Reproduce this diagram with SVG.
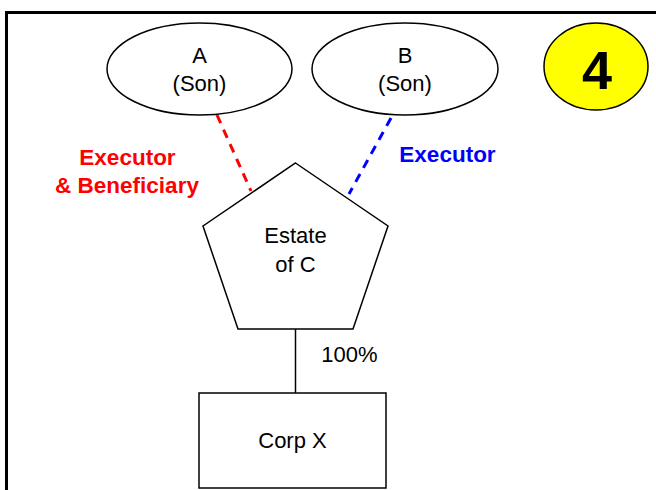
<svg xmlns="http://www.w3.org/2000/svg" width="656" height="490" viewBox="0 0 656 490">
<style>
.shape{fill:#fff;stroke:#000;stroke-width:1.5}
.t{font-family:"Liberation Sans",Arial,sans-serif;font-size:22px;text-anchor:middle;fill:#000}
.lbl{font-family:"Liberation Sans",Arial,sans-serif;font-size:22.5px;font-weight:bold;text-anchor:middle}
.conn{fill:none;stroke:#000;stroke-width:1.5}
.dash{fill:none;stroke-width:3;stroke-dasharray:9 7}
</style>
<rect width="656" height="490" fill="#fff"/>
<path d="M6.5 490 V12.5 H656" fill="none" stroke="#000" stroke-width="3"/>
<g id="connectors">
<line class="dash" stroke="#ff0000" x1="217" y1="115" x2="251" y2="191"/>
<line class="dash" stroke="#0000ff" x1="391" y1="118" x2="349" y2="194"/>
<line class="conn" x1="295.5" y1="329" x2="295.5" y2="393"/>
<text class="t" x="349.5" y="362">100%</text>
<text class="lbl" fill="#ff0000" x="127.5" y="165">Executor</text>
<text class="lbl" fill="#ff0000" x="127" y="193">&amp; Beneficiary</text>
<text class="lbl" fill="#0000ff" x="447.5" y="162">Executor</text>
</g>
<g id="nodeA">
<ellipse class="shape" cx="199.5" cy="69" rx="92.5" ry="46"/>
<text class="t" x="199.5" y="63">A</text>
<text class="t" x="199.5" y="91">(Son)</text>
</g>
<g id="nodeB">
<ellipse class="shape" cx="405" cy="69" rx="93" ry="46"/>
<text class="t" x="405" y="63">B</text>
<text class="t" x="405" y="91">(Son)</text>
</g>
<g id="badge">
<ellipse cx="596" cy="66.5" rx="52" ry="43.5" fill="#ffff00" stroke="#000" stroke-width="1.5"/>
<text x="597" y="89" font-family="Liberation Sans,Arial,sans-serif" font-size="54" font-weight="bold" text-anchor="middle">4</text>
</g>
<g id="estate">
<polygon class="shape" points="295.5,163 388,226 353,329 238,329 203,226"/>
<text class="t" x="295.5" y="243">Estate</text>
<text class="t" x="295.5" y="272">of C</text>
</g>
<g id="corpX">
<rect class="shape" x="199" y="393" width="187" height="95"/>
<text class="t" x="292.5" y="448">Corp X</text>
</g>
</svg>
